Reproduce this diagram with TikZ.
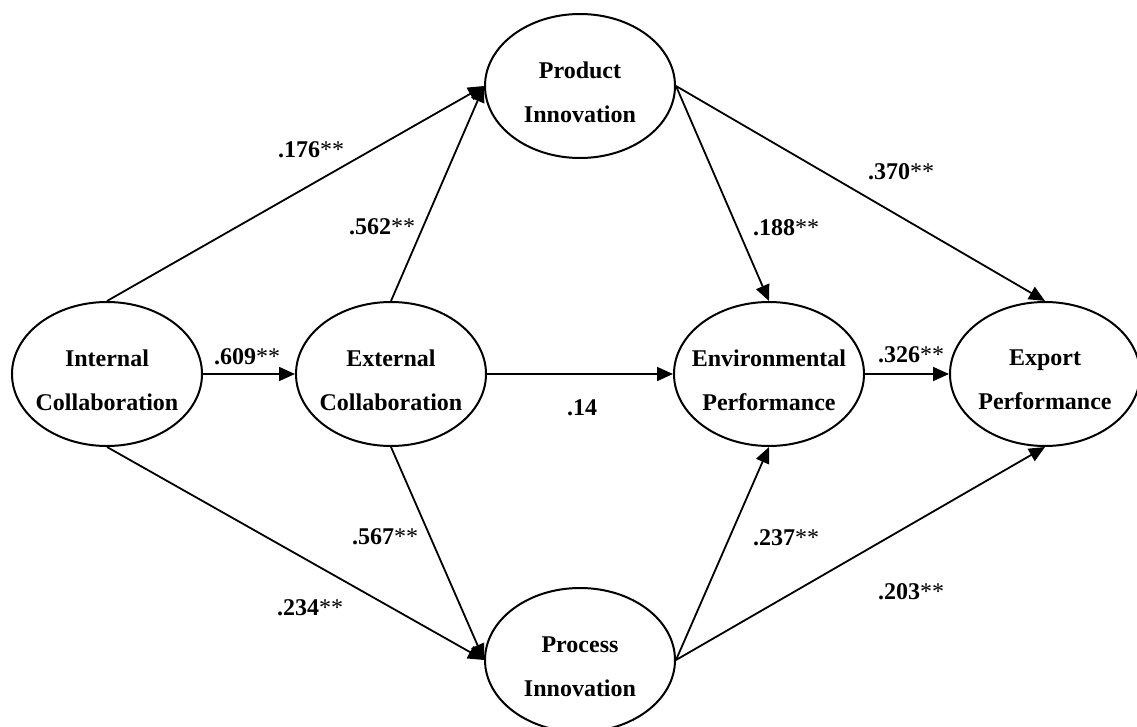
\documentclass[tikz,border=0pt]{standalone}
\usepackage{fontspec}
\setmainfont{Liberation Serif}
\usetikzlibrary{arrows.meta,shapes.geometric}
\begin{document}
\begin{tikzpicture}[x=0.5pt,y=-0.5pt,
  latent/.style={draw, line width=1pt, ellipse, minimum width=95pt, minimum height=72pt, inner sep=0pt},
  ntext/.style={align=center, inner sep=0pt, font=\fontsize{12}{22}\selectfont\bfseries},
  arr/.style={-{Triangle[length=8pt,width=7pt]}, line width=0.9pt},
  coef/.style={inner sep=0pt, font=\fontsize{12}{14}\selectfont}
]
\useasboundingbox (0,0) rectangle (1137,727);
\fill[white] (0,0) rectangle (1137,727);

% latent variables
\node[latent] (int) at (107,374) {};
\node[ntext] (intT) at (107,380) {Internal\\Collaboration};
\node[latent] (ext) at (391,374) {};
\node[ntext] (extT) at (391,380) {External\\Collaboration};
\node[latent] (env) at (769,374) {};
\node[ntext] (envT) at (769,380) {Environmental\\Performance};
\node[latent] (exp) at (1045,374) {};
\node[ntext] (expT) at (1045,380) {Export\\Performance};
\node[latent] (prod) at (580,86) {};
\node[ntext] (prodT) at (580,92) {Product\\Innovation};
\node[latent] (proc) at (580,660) {};
\node[ntext] (procT) at (580,667) {Process\\Innovation};

% paths
\draw[arr] (int.north) -- (prod.west);
\draw[arr] (ext.north) -- (prod.west);
\draw[arr] (int.east) -- (ext.west);
\draw[arr] (ext.east) -- (env.west);
\draw[arr] (env.east) -- (exp.west);
\draw[arr] (int.south) -- (proc.west);
\draw[arr] (ext.south) -- (proc.west);
\draw[arr] (prod.east) -- (env.north);
\draw[arr] (prod.east) -- (exp.north);
\draw[arr] (proc.east) -- (env.south);
\draw[arr] (proc.east) -- (exp.south);

% coefficients
\node[coef] (c609) at (247,357) {\textbf{.609}**};
\node[coef] (c14)  at (582,408) {\textbf{.14}};
\node[coef] (c326) at (911,355) {\textbf{.326}**};
\node[coef] (c176) at (311,150) {\textbf{.176}**};
\node[coef] (c562) at (382,227) {\textbf{.562}**};
\node[coef] (c370) at (901,172) {\textbf{.370}**};
\node[coef] (c188) at (786,228) {\textbf{.188}**};
\node[coef] (c567) at (385,537) {\textbf{.567}**};
\node[coef] (c234) at (310,608) {\textbf{.234}**};
\node[coef] (c237) at (786,538) {\textbf{.237}**};
\node[coef] (c203) at (911,592) {\textbf{.203}**};
\end{tikzpicture}
\end{document}
